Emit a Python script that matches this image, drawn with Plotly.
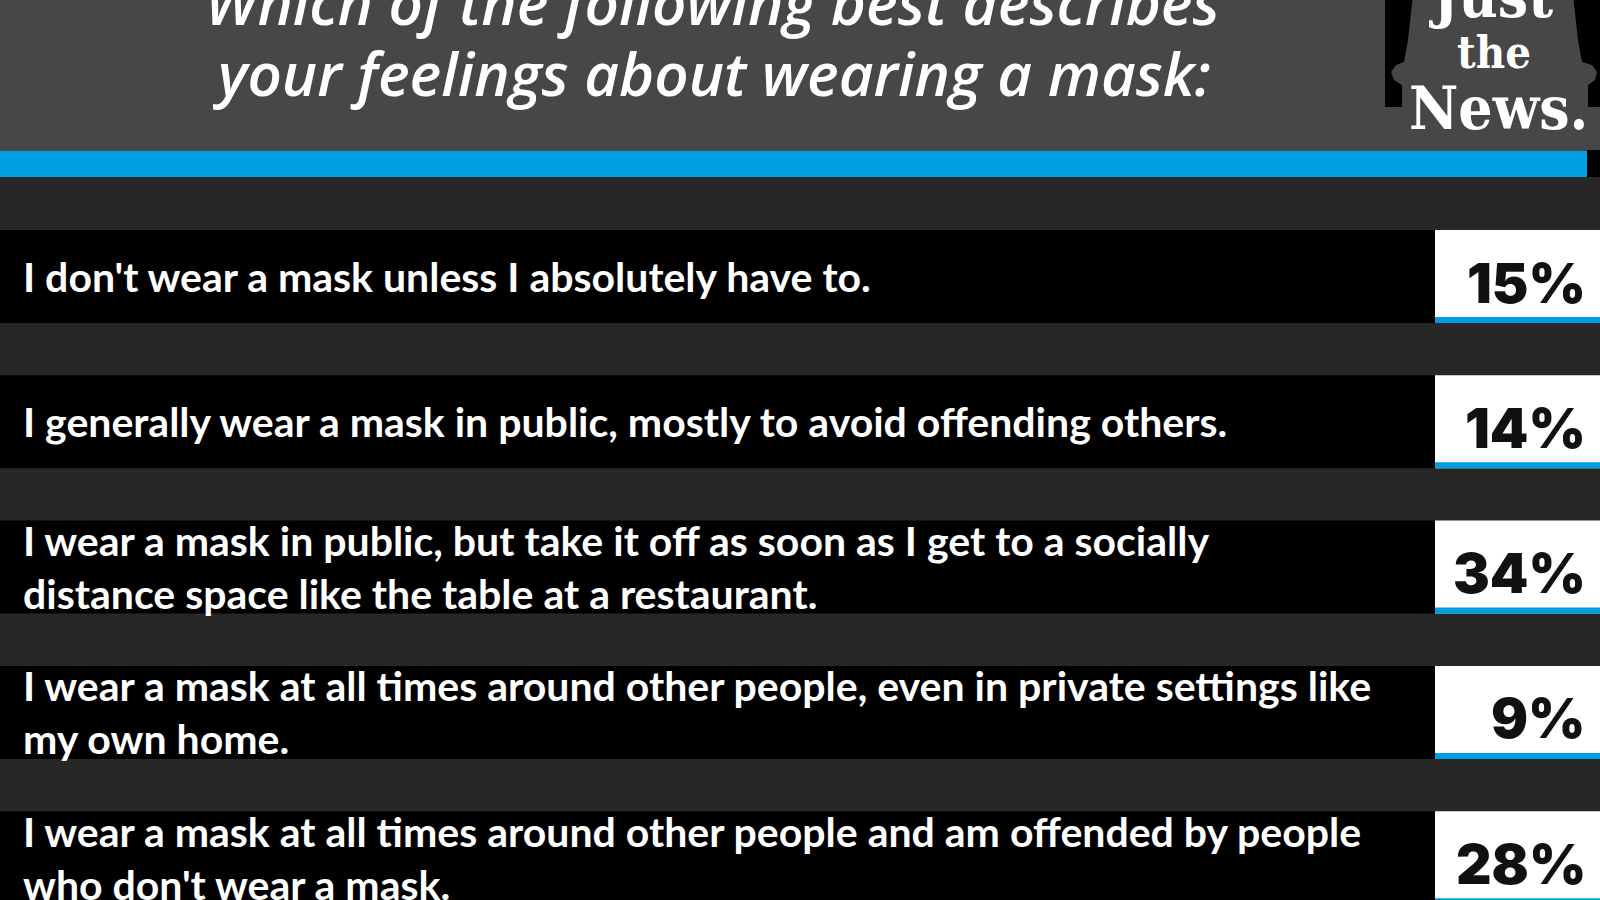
import plotly.graph_objects as go

# ---------------- data ----------------
title_lines = ["Which of the following best describes",
               "your feelings about wearing a mask:"]
answers = [
    "I don't wear a mask unless I absolutely have to.",
    "I generally wear a mask in public, mostly to avoid offending others.",
    "I wear a mask in public, but take it off as soon as I get to a socially<br>distance space like the table at a restaurant.",
    "I wear a mask at all times around other people, even in private settings like<br>my own home.",
    "I wear a mask at all times around other people and am offended by people<br>who don't wear a mask.",
]
percents = [15, 14, 34, 9, 28]
logo_lines = ["Just", "the", "News."]

# ---------------- styling ----------------
W, H = 1600, 900
HEADER = "#474747"
BG = "#272727"
BLUE = "#009ee2"
BAR_END = 1435
ROW_PITCH = 145.3
ROW_H = 93.0
FIRST_CENTER = 276.5
ULINE = 6.0

y_top = -FIRST_CENTER / ROW_PITCH
y_bot = (H - FIRST_CENTER) / ROW_PITCH
bw = ROW_H / ROW_PITCH


def py(p):
    return 1 - p / H


fig = go.Figure()
n = len(answers)
fig.add_trace(go.Bar(orientation="h", y=answers, x=[BAR_END] * n, base=0,
                     width=bw, marker=dict(color="#000000", line=dict(width=0)),
                     hoverinfo="skip"))
fig.add_trace(go.Bar(orientation="h", y=answers, x=[W - BAR_END] * n, base=BAR_END,
                     width=bw, marker=dict(color="#ffffff", line=dict(width=0)),
                     hoverinfo="skip"))
fig.add_trace(go.Bar(orientation="h", y=answers, x=[W - BAR_END] * n, base=BAR_END,
                     width=ULINE / ROW_PITCH, offset=bw / 2 - ULINE / ROW_PITCH,
                     marker=dict(color=BLUE, line=dict(width=0)),
                     hoverinfo="skip"))

annotations = []
for a in answers:
    annotations.append(dict(x=21, xref="x", y=a, yref="y", text=a, showarrow=False,
                            xanchor="left", yanchor="middle", align="left",
                            font=dict(family="Lato", size=41, color="#ffffff", weight=700)))
for a, p in zip(answers, percents):
    annotations.append(dict(x=1588, xref="x", y=a, yref="y", text=f"{p}%", showarrow=False,
                            xanchor="right", yanchor="middle", yshift=-6,
                            font=dict(family="Inter, Lato", size=55, color="#111111", weight=900)))

# title
for line, cy in zip(title_lines, [2, 73]):
    annotations.append(dict(x=712, xref="x", y=py(cy), yref="paper", text=line,
                            showarrow=False, xanchor="center", yanchor="middle",
                            font=dict(family="Open Sans", size=60, color="#ffffff",
                                      style="italic", weight=600)))

# logo text
for line, cx, cy, sz in zip(logo_lines, [1491, 1494, 1498], [-4, 52, 108], [60, 45, 60]):
    annotations.append(dict(x=cx, xref="x", y=py(cy), yref="paper", text=line,
                            showarrow=False, xanchor="center", yanchor="middle",
                            font=dict(family="DejaVu Serif Condensed, DejaVu Serif", size=sz,
                                      color="#ffffff", weight=700)))

shapes = [
    dict(type="rect", xref="x", yref="paper", x0=0, x1=W, y0=py(151), y1=1,
         fillcolor=HEADER, line=dict(width=0), layer="below"),
    dict(type="rect", xref="x", yref="paper", x0=1385, x1=W, y0=py(107), y1=1,
         fillcolor="#000000", line=dict(width=0), layer="below"),
    dict(type="rect", xref="x", yref="paper", x0=1587, x1=W, y0=py(177), y1=py(150),
         fillcolor="#000000", line=dict(width=0), layer="below"),
    dict(type="rect", xref="x", yref="paper", x0=0, x1=1587, y0=py(177), y1=py(151),
         fillcolor=BLUE, line=dict(width=0), layer="below"),
]
bell = [(1413, -5), (1408, 40), (1404, 62), (1396, 65), (1391, 72), (1394, 80),
        (1402, 85), (1402, 110), (1588, 110), (1588, 85), (1595, 80), (1597, 72),
        (1592, 65), (1582, 62), (1578, 40), (1573, -5)]
path = "M " + " L ".join(f"{x},{py(y)}" for x, y in bell) + " Z"
shapes.append(dict(type="path", xref="x", yref="paper", path=path,
                   fillcolor=HEADER, line=dict(width=0), layer="below"))

fig.update_layout(
    width=W, height=H, margin=dict(l=0, r=0, t=0, b=0),
    paper_bgcolor=BG, plot_bgcolor="rgba(0,0,0,0)",
    barmode="overlay", showlegend=False,
    xaxis=dict(range=[0, W], visible=False, fixedrange=True),
    yaxis=dict(type="category", range=[y_bot, y_top], visible=False, fixedrange=True),
    annotations=annotations, shapes=shapes,
)

fig.write_html("out.html", config={"displayModeBar": False},
               post_script="document.body.style.margin='0';document.body.style.padding='0';"
                           "document.body.style.overflow='hidden';")
